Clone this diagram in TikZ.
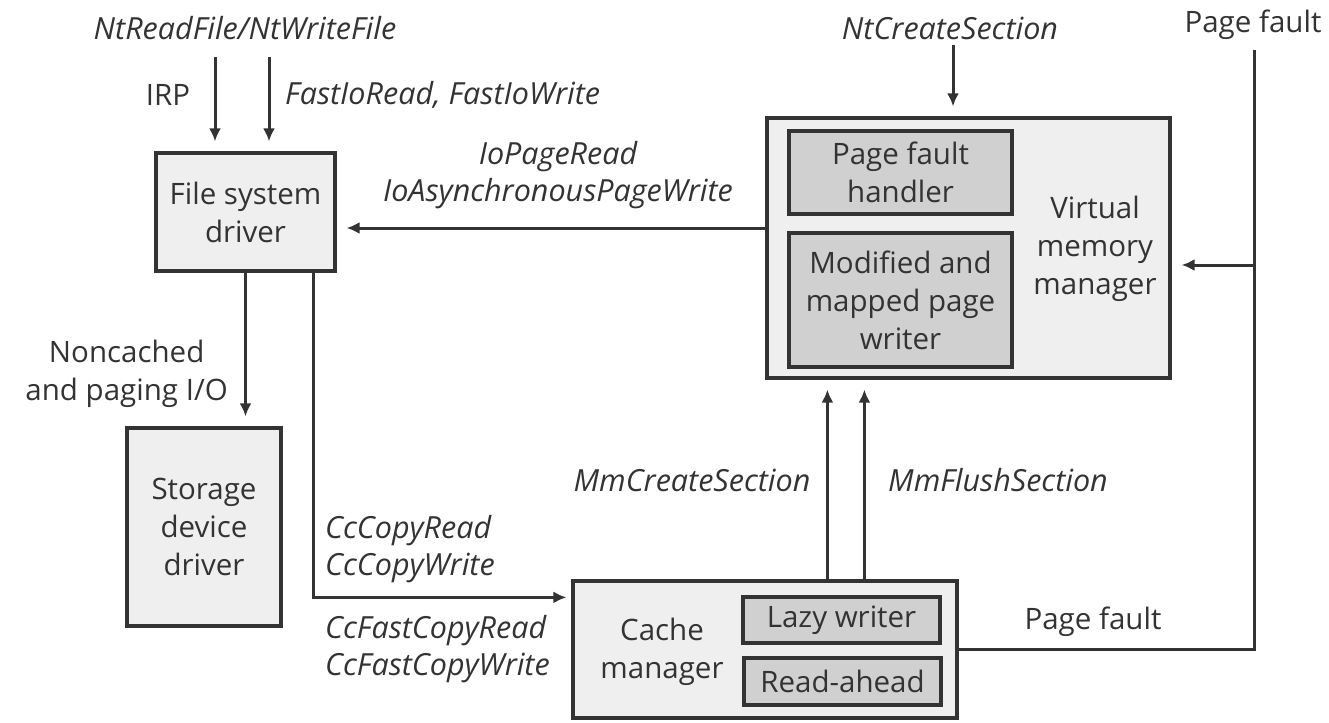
\documentclass[tikz,border=0pt]{standalone}
\usepackage{fontspec}
\setmainfont{Open Sans}
\usetikzlibrary{arrows.meta,positioning,calc}
\definecolor{vmInk}{HTML}{333333}
\definecolor{vmBox}{HTML}{EFEFEF}
\definecolor{vmSub}{HTML}{D0D0D0}
\newcommand{\vmsize}{\fontsize{29.5}{38}\selectfont}
\newcommand{\vmcall}{\fontsize{30.5}{37}\selectfont\itshape}
\tikzset{
    >={Latex[length=13pt,width=12pt]},
    box/.style={draw=vmInk, line width=3.2pt, fill=vmBox, align=center, text=vmInk, inner sep=0pt},
    subbox/.style={draw=vmInk, line width=3.2pt, fill=vmSub, align=center, text=vmInk, inner sep=0pt},
    lbl/.style={text=vmInk, align=center, inner sep=0pt},
    call/.style={lbl, font=\vmcall},
    wire/.style={line width=3pt, draw=vmInk},
    arrow/.style={wire, ->, shorten >=10pt}
}

\begin{document}
\begin{tikzpicture}[x=1pt, y=-1pt, font=\vmsize]
    \useasboundingbox (0,0) rectangle (1329,722);
    \node[box, minimum width=179pt, minimum height=118pt] (fsd) at (245.5,212) {File system\\driver};
    \node[box, minimum width=154pt, minimum height=198pt] (stor) at (204,527) {Storage\\device\\driver};
    \node[box, minimum width=403pt, minimum height=260pt] (vmm) at (968.5,248) {};
    \node[subbox, minimum width=223pt, minimum height=83pt] (pfh) at (900.5,172.5) {Page fault\\handler};
    \node[subbox, minimum width=223pt, minimum height=134pt] (mpw) at (900.5,300) {Modified and\\mapped page\\writer};
    \node[lbl] (vmmlbl) at (1095,249) {Virtual\\memory\\manager};
    \node[box, minimum width=384pt, minimum height=137pt] (cache) at (765,649.5) {};
    \node[subbox, minimum width=197pt, minimum height=46pt] (lazy) at (841.5,620) {Lazy writer};
    \node[subbox, minimum width=197pt, minimum height=47pt] (rahead) at (842.5,681.5) {Read-ahead};
    \node[lbl] (cachelbl) at (662,652) {Cache\\manager};
    \node[call] (ntrw) at (245,28) {NtReadFile/NtWriteFile};
    \node[lbl] (irp) at (168,95) {IRP};
    \node[call, anchor=west] (fastio) at (285,95) {FastIoRead, FastIoWrite};
    \node[call] (iopage) at (558,175) {IoPageRead\\IoAsynchronousPageWrite};
    \node[call] (ntcs) at (950,28) {NtCreateSection};
    \node[lbl] (pftoplbl) at (1253,25) {Page fault};
    \node[lbl, anchor=east] (noncached) at (228,374) {Noncached\\and paging I/O};
    \node[call] (mmcreate) at (692,480) {MmCreateSection};
    \node[call] (mmflush) at (998,480) {MmFlushSection};
    \node[call, anchor=west, align=left] (cccopy) at (325,549) {CcCopyRead\\CcCopyWrite};
    \node[call, anchor=west, align=left] (ccfast) at (325,649) {CcFastCopyRead\\CcFastCopyWrite};
    \node[lbl] (pfbotlbl) at (1093,622) {Page fault};
    \coordinate (irpin) at (215,57);
    \coordinate (fastin) at (269,57);
    \coordinate (ntcsin) at (953,45);
    \coordinate (ioout) at ($(vmm.west)+(0,-20)$);
    \coordinate (fsdr) at ($(fsd.south east)+(-23,0)$);
    \coordinate (ccin) at ($(cache.north west)+(0,18)$);
    \coordinate (mmcs) at ($(cache.north west)+(256,0)$);
    \coordinate (mmfs) at ($(cache.north west)+(293,0)$);
    \coordinate (pftop) at (1254,50);
    \coordinate (pfjoin) at (1254,265);
    \draw[arrow] (irpin) -- (irpin |- fsd.north);
    \draw[arrow] (fastin) -- (fastin |- fsd.north);
    \draw[arrow] (ntcsin) -- (ntcsin |- vmm.north);
    \draw[arrow] (ioout) -- (ioout -| fsd.east);
    \draw[arrow] (fsd.south) -- (fsd.south |- stor.north);
    \draw[arrow, shorten >=5pt] (fsdr) |- (ccin);
    \draw[arrow] (mmcs) -- (mmcs |- vmm.south);
    \draw[arrow] (mmfs) -- (mmfs |- vmm.south);
    \draw[wire] (pftop) -- (pftop |- cache.east) -- (cache.east);
    \draw[arrow] (pfjoin) -- (pfjoin -| vmm.east);
\end{tikzpicture}
\end{document}
